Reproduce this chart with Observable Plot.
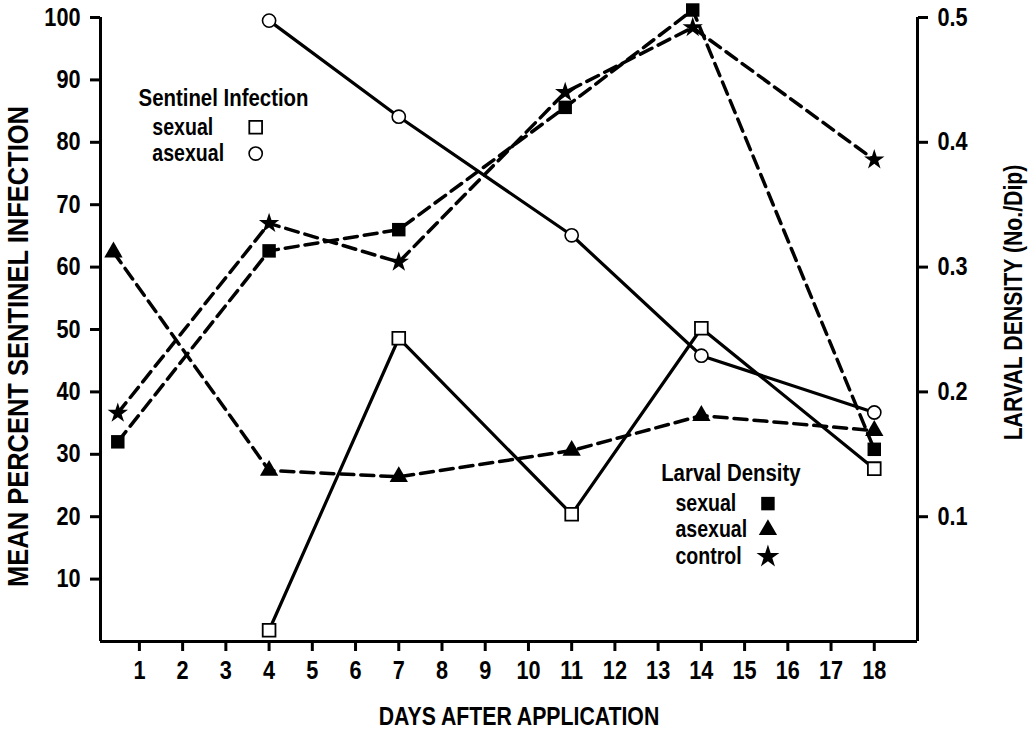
<!DOCTYPE html>
<html><head><meta charset="utf-8">
<script src="https://cdn.jsdelivr.net/npm/d3@7"></script>
<script src="https://cdn.jsdelivr.net/npm/@observablehq/plot@0.6"></script>
<style>
html,body{margin:0;padding:0;background:#fff;}
#chart{width:1035px;height:732px;overflow:hidden;}
</style></head><body><div id="chart"></div>
<script>
// ---- data ----
const xTicks = [1,2,3,4,5,6,7,8,9,10,11,12,13,14,15,16,17,18];
const leftTicks = [10,20,30,40,50,60,70,80,90,100];
const rightTicks = [0.1,0.2,0.3,0.4,0.5];

const sentinelDays = [4, 7, 11, 14, 18];
const sentinelSexual = [1.8, 48.6, 20.4, 50.2, 27.7];
const sentinelAsexual = [99.5, 84.1, 65.1, 45.8, 36.7];

const larvalDays = [0.5, 4, 7, 10.85, 13.8, 18];
const larvalAsexualDays = [0.4, 4, 7, 11, 14, 18];
const larvalSexual = [0.160, 0.313, 0.330, 0.428, 0.506, 0.154];
const larvalAsexual = [0.312, 0.137, 0.132, 0.153, 0.181, 0.169];
const larvalControl = [0.183, 0.335, 0.304, 0.440, 0.492, 0.386];

const xLabel = "DAYS AFTER APPLICATION";
const yLabel = "MEAN PERCENT SENTINEL INFECTION";
const y2Label = "LARVAL DENSITY (No./Dip)";
const legend1Title = "Sentinel Infection";
const legend1Items = ["sexual", "asexual"];
const legend2Title = "Larval Density";
const legend2Items = ["sexual", "asexual", "control"];

// ---- layout (not data) ----
const R = 200; // right axis value -> left axis units
const FONT = '"Liberation Sans",Arial,sans-serif';
const SQUEEZE = 0.85; // condensed look
const L1 = {x: 0.98, xi: 1.3, xs: 3.69, y: [87.0, 82.4, 78.2]};
const L2 = {x: 13.07, xi: 13.4, xs: 15.54, y: [26.9, 22.1, 17.9, 13.6]};

const sent = (vals) => sentinelDays.map((d, i) => ({day: d, v: vals[i]}));
const larv = (days, vals) => days.map((d, i) => ({day: d, v: vals[i] * R}));

const sSex = sent(sentinelSexual), sAsx = sent(sentinelAsexual);
const lSex = larv(larvalDays, larvalSexual), lAsx = larv(larvalAsexualDays, larvalAsexual), lCtl = larv(larvalDays, larvalControl);

const dash = "13,7";
const txt = {fill: "black", fontWeight: "bold", fontFamily: FONT};
const ctr = {textAnchor: "middle", lineAnchor: "middle"};

const chart = Plot.plot({
  width: 1035, height: 732,
  marginLeft: 100, marginRight: 118, marginTop: 17, marginBottom: 91,
  x: {domain: [0.1, 19]},
  y: {domain: [0, 100]},
  style: {fontFamily: FONT, fontWeight: "bold", fontSize: "25px", color: "black", background: "white", overflow: "visible"},
  marks: [
    Plot.axisX({ticks: xTicks, tickSize: 10, tickPadding: 9, tickFormat: d => String(d), label: null, strokeWidth: 3, fontSize: 25.5}),
    Plot.axisY({anchor: "left", ticks: leftTicks, tickSize: 10, tickPadding: 10, tickFormat: d => String(d), label: null, strokeWidth: 3, fontSize: 25.5}),
    Plot.axisY({anchor: "right", ticks: rightTicks.map(v => v * R), tickSize: 10, tickPadding: 10, tickFormat: d => (d / R).toFixed(1), label: null, strokeWidth: 3, fontSize: 25.5}),
    Plot.ruleY([0], {strokeWidth: 3}),
    Plot.ruleX([0.1, 19], {strokeWidth: 3}),

    // larval density (dashed)
    Plot.line(lSex, {x: "day", y: "v", stroke: "black", strokeWidth: 3.5, strokeDasharray: dash}),
    Plot.line(lAsx, {x: "day", y: "v", stroke: "black", strokeWidth: 3.5, strokeDasharray: dash}),
    Plot.line(lCtl, {x: "day", y: "v", stroke: "black", strokeWidth: 3.5, strokeDasharray: dash}),
    // sentinel (solid)
    Plot.line(sSex, {x: "day", y: "v", stroke: "black", strokeWidth: 3.2}),
    Plot.line(sAsx, {x: "day", y: "v", stroke: "black", strokeWidth: 3.2}),

    Plot.dot(lSex, {x: "day", y: "v", symbol: "square", r: 7.6, fill: "black", stroke: "none"}),
    Plot.dot(lAsx, {x: "day", y: "v", symbol: "triangle", r: 6.8, fill: "black", stroke: "none"}),
    Plot.dot(lCtl, {x: "day", y: "v", symbol: "star", r: 6.4, fill: "black", stroke: "none"}),
    Plot.dot(sSex, {x: "day", y: "v", symbol: "square", r: 7.2, fill: "white", stroke: "black", strokeWidth: 1.8}),
    Plot.dot(sAsx, {x: "day", y: "v", symbol: "circle", r: 6.6, fill: "white", stroke: "black", strokeWidth: 1.6}),

    // legend 1
    Plot.text([legend1Title], {x: L1.x, y: L1.y[0], text: d => d, textAnchor: "start", fontSize: 24, ...txt}),
    Plot.text(legend1Items, {x: L1.xi, y: (d, i) => L1.y[i + 1], text: d => d, textAnchor: "start", fontSize: 23, ...txt}),
    Plot.dot([0], {x: L1.xs, y: L1.y[1], symbol: "square", r: 7.2, fill: "white", stroke: "black", strokeWidth: 1.8}),
    Plot.dot([0], {x: L1.xs, y: L1.y[2], symbol: "circle", r: 6.6, fill: "white", stroke: "black", strokeWidth: 1.6}),
    // legend 2
    Plot.text([legend2Title], {x: L2.x, y: L2.y[0], text: d => d, textAnchor: "start", fontSize: 24, ...txt}),
    Plot.text(legend2Items, {x: L2.xi, y: (d, i) => L2.y[i + 1], text: d => d, textAnchor: "start", fontSize: 23, ...txt}),
    Plot.dot([0], {x: L2.xs, y: L2.y[1], symbol: "square", r: 7.6, fill: "black", stroke: "none"}),
    Plot.dot([0], {x: L2.xs, y: L2.y[2], symbol: "triangle", r: 6.8, fill: "black", stroke: "none"}),
    Plot.dot([0], {x: L2.xs, y: L2.y[3], symbol: "star", r: 7.2, fill: "black", stroke: "none"}),

    // axis titles
    Plot.text([yLabel], {frameAnchor: "left", rotate: -90, dx: -82, dy: 17, text: d => d, fontSize: 30, ...ctr, ...txt}),
    Plot.text([y2Label], {frameAnchor: "right", rotate: -90, dx: 96, dy: -27, text: d => d, fontSize: 25, ...ctr, ...txt}),
    Plot.text([xLabel], {frameAnchor: "bottom", dx: 10, dy: 75, text: d => d, fontSize: 25, ...ctr, ...txt})
  ]
});
// condense every text horizontally around its own anchor point
chart.querySelectorAll("text").forEach(t => {
  const x = +t.getAttribute("x") || 0, y = +t.getAttribute("y") || 0;
  const tr = t.getAttribute("transform") || "";
  t.setAttribute("transform", `${tr} translate(${x},${y}) scale(${SQUEEZE},1) translate(${-x},${-y})`);
});
document.getElementById("chart").appendChild(chart);
</script>
</body></html>
